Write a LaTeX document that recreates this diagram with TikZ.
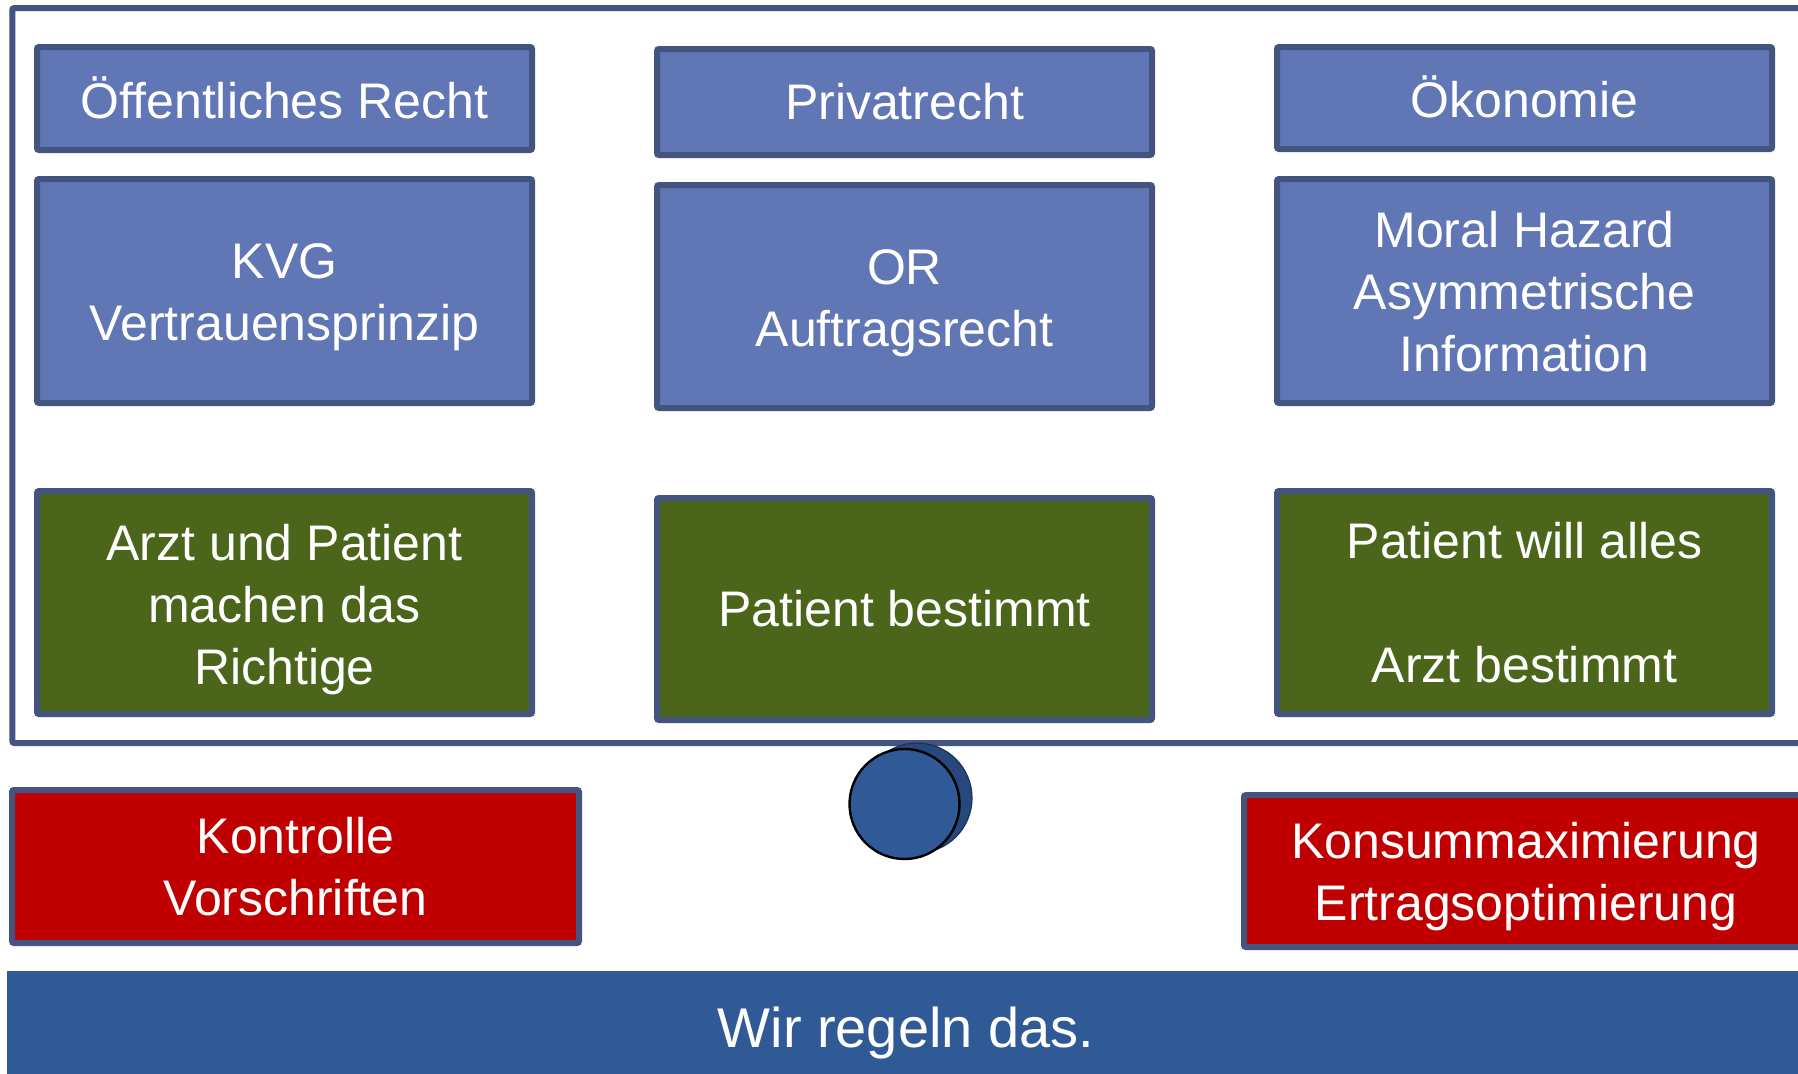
\documentclass[tikz,border=0pt]{standalone}
\usepackage{fontspec}
\setmainfont{Liberation Sans}
\definecolor{boxline}{RGB}{67,84,128}
\definecolor{bluefill}{RGB}{97,118,180}
\definecolor{greenfill}{RGB}{75,102,27}
\definecolor{redfill}{RGB}{192,0,0}
\definecolor{barblue}{RGB}{47,90,150}
\definecolor{diskside}{RGB}{38,72,125}
\tikzset{
  card/.style={draw=boxline, line width=3pt, rounded corners=1pt,
    text=white, align=center, inner sep=0pt,
    font=\fontsize{25}{31}\selectfont, minimum width=247.5pt},
  bluecard/.style={card, fill=bluefill},
  greencard/.style={card, fill=greenfill},
  redcard/.style={card, fill=redfill},
}
\begin{document}
\begin{tikzpicture}[x=0.5pt, y=-0.5pt]
\useasboundingbox (0,0) rectangle (1798,1073);
\clip (0,0) rectangle (1798,1073);
\fill[white] (0,0) rectangle (1798,1073);

% outer frame, running off the right edge
\draw[boxline, line width=3pt, rounded corners=1pt] (12.3,8) rectangle (1830,743);

% column: public law
\node[bluecard, minimum height=51.5pt] (oeff) at (284.5,98.5) {\raisebox{1pt}{Öffentliches Recht}};
\node[bluecard, minimum height=112pt] (kvg) at (284.5,291) {\\[-7pt]KVG\\Vertrauensprinzip};
\node[greencard, minimum height=111.5pt] (arzt) at (284.5,602.5) {\\[-6pt]Arzt und Patient\\machen das\\Richtige};

% column: private law
\node[bluecard, minimum height=53pt] (priv) at (904.5,102) {Privatrecht};
\node[bluecard, minimum height=111.5pt] (or) at (904.5,296.5) {\\[-7pt]OR\\Auftragsrecht};
\node[greencard, minimum height=111pt] (patb) at (904.5,609) {Patient bestimmt};

% column: economics
\node[bluecard, minimum height=51pt] (oek) at (1524.5,98) {\raisebox{1pt}{Ökonomie}};
\node[bluecard, minimum height=112pt] (moral) at (1524.5,291) {\\[-12pt]Moral Hazard\\Asymmetrische\\Information};
\node[greencard, minimum height=111.5pt] (patw) at (1524.5,602.5) {Patient will alles\\\mbox{}\\Arzt bestimmt};

% lower row
\node[redcard, minimum width=283.5pt, minimum height=76.5pt] (kontr) at (295.5,866.5) {Kontrolle\\Vorschriften};
\node[redcard, minimum width=282pt, minimum height=76pt] (konsum) at (1526,871) {\\[-7pt]Konsummaximierung\\Ertragsoptimierung};

% disk between the two red boxes
\fill[diskside, draw=diskside!70!black, line width=0.6pt] (917,798) circle[radius=27.5pt];
\fill[barblue, draw=black, line width=1.2pt] (904.5,804) circle[radius=27.5pt];

% bottom banner
\fill[barblue] (6.7,971) rectangle (1830,1090);
\node[text=white, font=\fontsize{28}{34}\selectfont] (banner) at (906,1033) {Wir regeln das.};
\end{tikzpicture}
\end{document}
